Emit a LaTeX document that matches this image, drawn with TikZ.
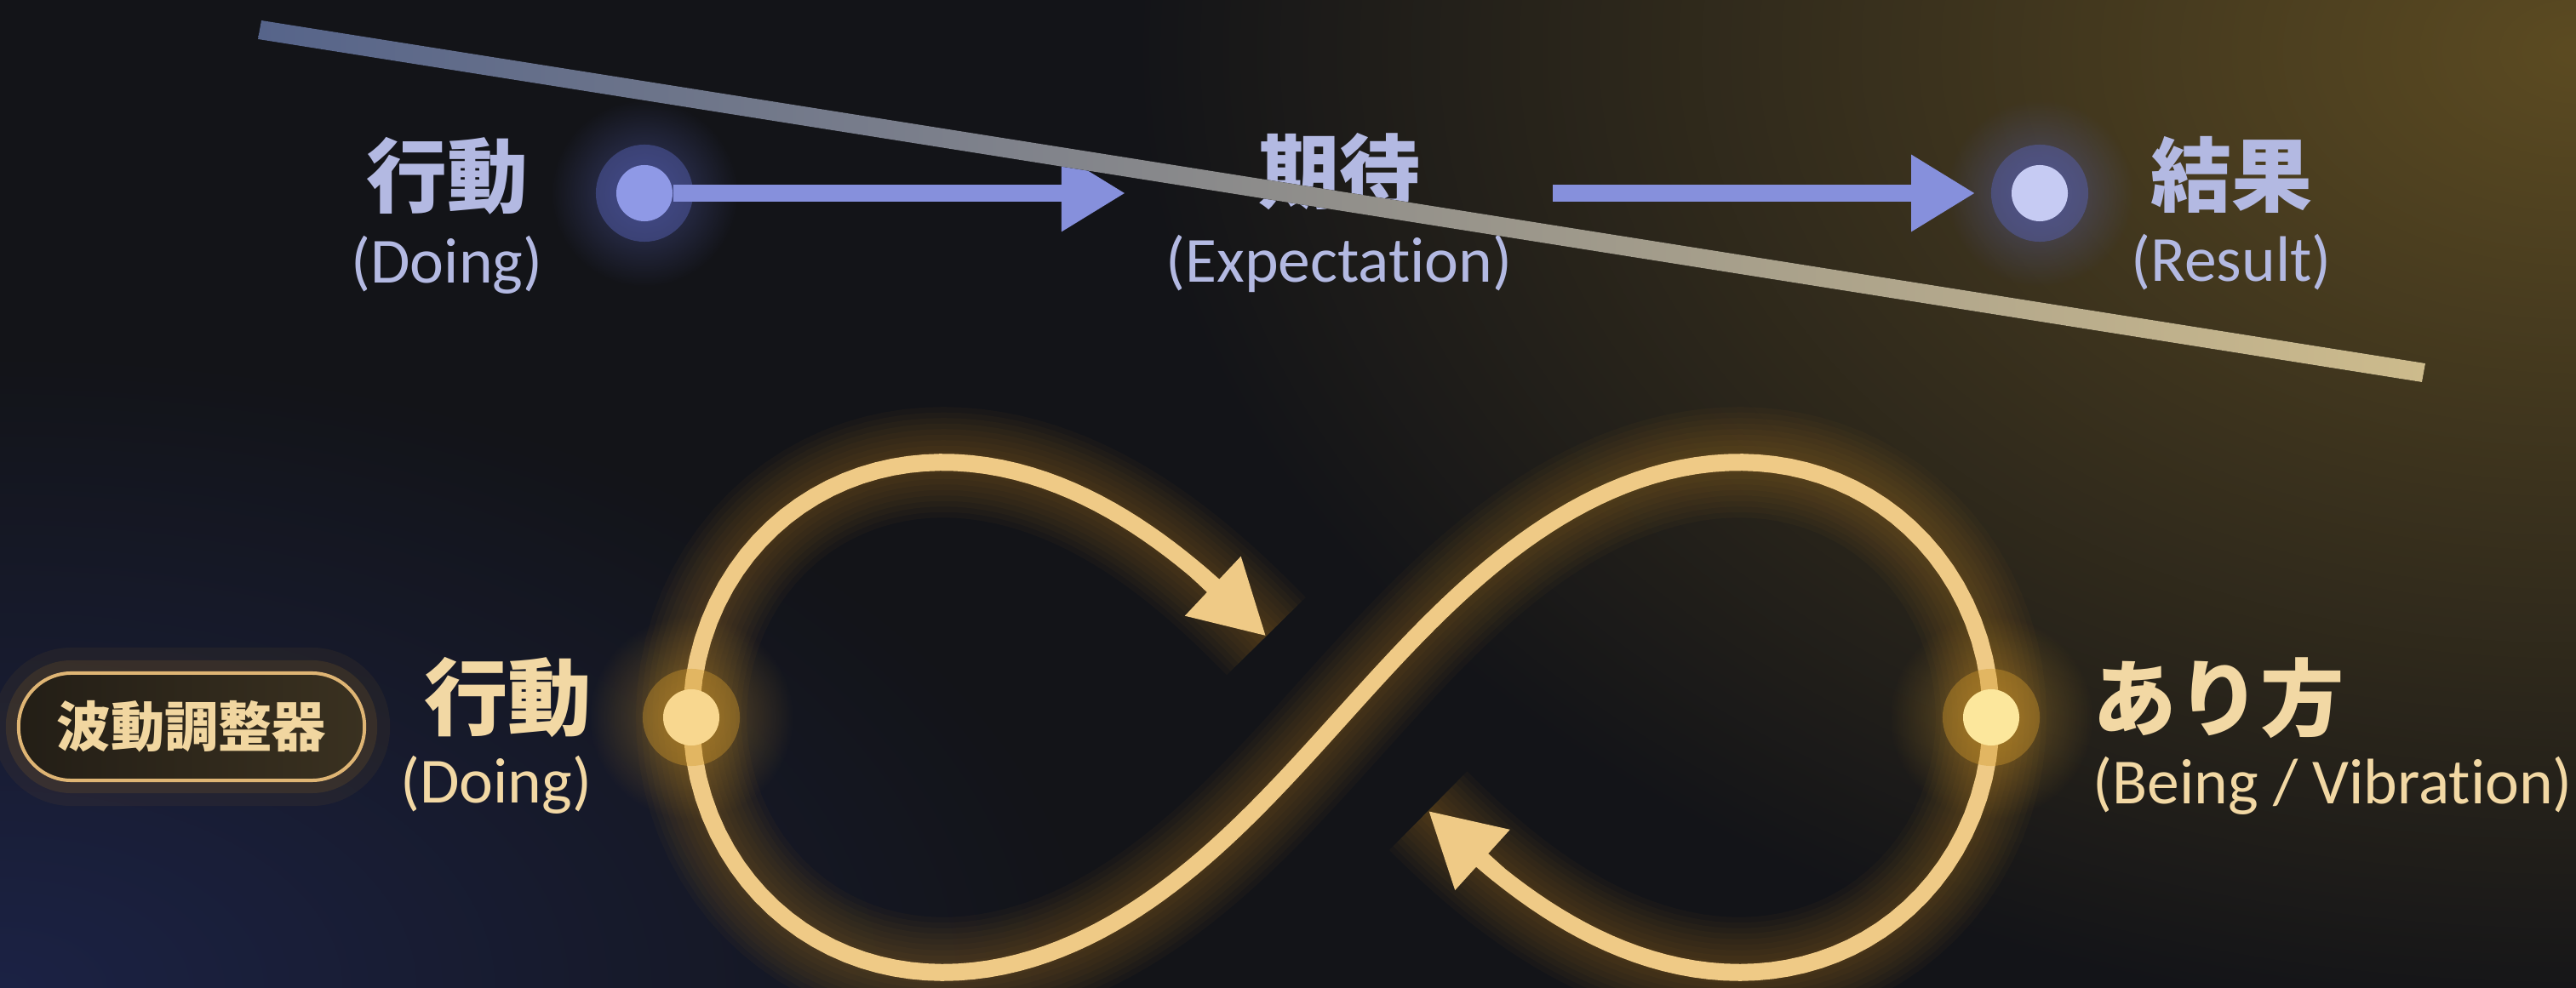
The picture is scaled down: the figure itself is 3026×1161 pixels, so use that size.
\documentclass[tikz,border=0pt]{standalone}
\usepackage{fontspec}
\setmainfont{Noto Sans CJK JP}
\newfontfamily\latinfont[Ligatures=NoCommon]{Carlito}
\usepackage{xcolor}
\usetikzlibrary{arrows.meta,positioning,fadings}

\definecolor{bgbase}{HTML}{131418}
\definecolor{bggold}{HTML}{5C4B22}
\definecolor{bgnavy}{HTML}{1E2650}
\definecolor{toptext}{HTML}{B3B9E2}
\definecolor{arrblue}{HTML}{8690DC}
\definecolor{dotblueA}{HTML}{8F99E6}
\definecolor{dotblueB}{HTML}{C6CBF3}
\definecolor{bluehalo}{HTML}{5863B8}
\definecolor{strikeL}{HTML}{56648A}
\definecolor{strikeM}{HTML}{9C9EA8}
\definecolor{strikeR}{HTML}{CDBB8C}
\definecolor{bottext}{HTML}{F2D8A4}
\definecolor{infgold}{HTML}{EFCA86}
\definecolor{dotgoldL}{HTML}{F8D78F}
\definecolor{dotgoldR}{HTML}{FCE79C}
\definecolor{goldhalo}{HTML}{D0982C}
\definecolor{glowgold}{HTML}{B8801E}
\definecolor{pillfillL}{HTML}{231E16}
\definecolor{pillfillR}{HTML}{3A3120}
\definecolor{pillline}{HTML}{DFB574}
\definecolor{pilltext}{HTML}{F1D6A0}

\tikzfading[name=glowfade, inner color=transparent!0, outer color=transparent!100]

\begin{document}
\begin{tikzpicture}[
  x=0.01cm, y=-0.01cm,
  declare function={lx(\t)=1575.5+763.5*cos(\t)/(1+sin(\t)^2);
                    ly(\t)=843-848*sin(\t)*cos(\t)/(1+sin(\t)^2);},
  jtop/.style   = {font=\fontsize{27}{30}\selectfont\bfseries, text=toptext, inner sep=0pt},
  etop/.style   = {font=\latinfont\fontsize{21.5}{24}\selectfont, text=toptext, inner sep=0pt},
  jbot/.style   = {font=\fontsize{28}{31}\selectfont\bfseries, text=bottext, inner sep=0pt},
  ebot/.style   = {font=\latinfont\fontsize{21.5}{24}\selectfont, text=bottext, inner sep=0pt},
  dot/.style    = {circle, inner sep=0pt, minimum size=0.66cm},
  bluedot/.style = {dot, preaction={draw=bluehalo, draw opacity=.45, line width=0.48cm}},
  golddot/.style = {dot, preaction={draw=goldhalo, draw opacity=.4, line width=0.48cm}},
  toparr/.style = {-{Triangle[length=7.5mm, width=8.5mm]}, line width=2mm, draw=arrblue},
  infarr/.style = {-{Triangle[length=8.6mm, width=9mm]}, line width=2mm, draw=infgold},
  infline/.style = {line width=2mm, draw=infgold},
  pill/.style   = {draw=pillline, line width=0.4mm, left color=pillfillL, right color=pillfillR,
                   rounded corners=0.62cm, minimum width=4.06cm, minimum height=1.26cm,
                   font=\fontsize{18}{20}\selectfont\bfseries, text=pilltext,
                   preaction={draw=glowgold, draw opacity=.07, line width=0.6cm},
                   preaction={draw=glowgold, draw opacity=.14, line width=0.3cm}}
]
\useasboundingbox (0,0) rectangle (3026,1161);
\clip (0,0) rectangle (3026,1161);

%% ---- background ---------------------------------------------------
\fill[bgbase] (0,0) rectangle (3026,1161);
\fill[bggold, path fading=glowfade] (3026,60) ellipse (1700 and 1150);
\fill[bgnavy, fill opacity=.8, path fading=glowfade] (0,1161) ellipse (1300 and 750);

%% ---- linear chain (struck out) ------------------------------------
\coordinate (pD1) at (757,227);
\coordinate (pD3) at (2396,227);
\fill[bluehalo, fill opacity=.5, path fading=glowfade] (pD1) circle (1.1cm);
\fill[bluehalo, fill opacity=.5, path fading=glowfade] (pD3) circle (1.1cm);

\node[bluedot, fill=dotblueA] (d1) at (pD1) {};
\node[bluedot, fill=dotblueB] (d3) at (pD3) {};

\node[jtop] (doJ) at (525,207) {行動};
\node[etop, below=2.3mm of doJ] (doE) {(Doing)};
\node[jtop] (exJ) at (1573,202) {期待};
\node[etop, below=2.8mm of exJ] (exE) {(Expectation)};
\node[jtop] (reJ) at (2621,205) {結果};
\node[etop, below=2.4mm of reJ] (reE) {(Result)};

\coordinate (expIn)  at (1322,227);
\coordinate (expOut) at (1824,227);
\draw[toparr] (d1) -- (expIn);
\draw[toparr, shorten >=0.42cm] (expOut) -- (d3);

\fill[left color=strikeL, middle color=strikeM, right color=strikeR]
  (307,24) -- (2849,427) -- (2845,449) -- (303,46) -- cycle;

%% ---- infinity loop ------------------------------------------------
\coordinate (pL) at ({lx(180)},{ly(180)});
\coordinate (pR) at ({lx(0)},{ly(0)});
\coordinate (tipA) at ({lx(257)},{ly(257)});
\coordinate (tipB) at ({lx(-75)},{ly(-75)});

\foreach \i in {1,...,10}
  \draw[glowgold, line width=\i*1.3mm, draw opacity=.045]
    plot[domain=-75:257, samples=200, variable=\t] ({lx(\t)},{ly(\t)});
\fill[goldhalo, fill opacity=.45, path fading=glowfade] (pL) circle (1.2cm);
\fill[goldhalo, fill opacity=.45, path fading=glowfade] (pR) circle (1.2cm);

\draw[infline] plot[domain=-67:250, samples=200, variable=\t] ({lx(\t)},{ly(\t)});
\draw[infarr] ({lx(246)},{ly(246)}) -- (tipA);
\draw[infarr] ({lx(-64)},{ly(-64)}) -- (tipB);

\node[golddot, fill=dotgoldL] (dL) at (pL) {};
\node[golddot, fill=dotgoldR] (dR) at (pR) {};

\node[jbot, anchor=east] (doJ2) at (696,820) {行動};
\node[ebot, below=2mm of doJ2.south east, anchor=north east] (doE2) {(Doing)};
\node[jbot, anchor=west] (beJ) at (2458,820) {あり方};
\node[ebot, below=2mm of beJ.south west, anchor=north west] (beE) {(Being / Vibration)};

\node[pill] (tuner) at (225,854) {波動調整器};
\end{tikzpicture}
\end{document}
